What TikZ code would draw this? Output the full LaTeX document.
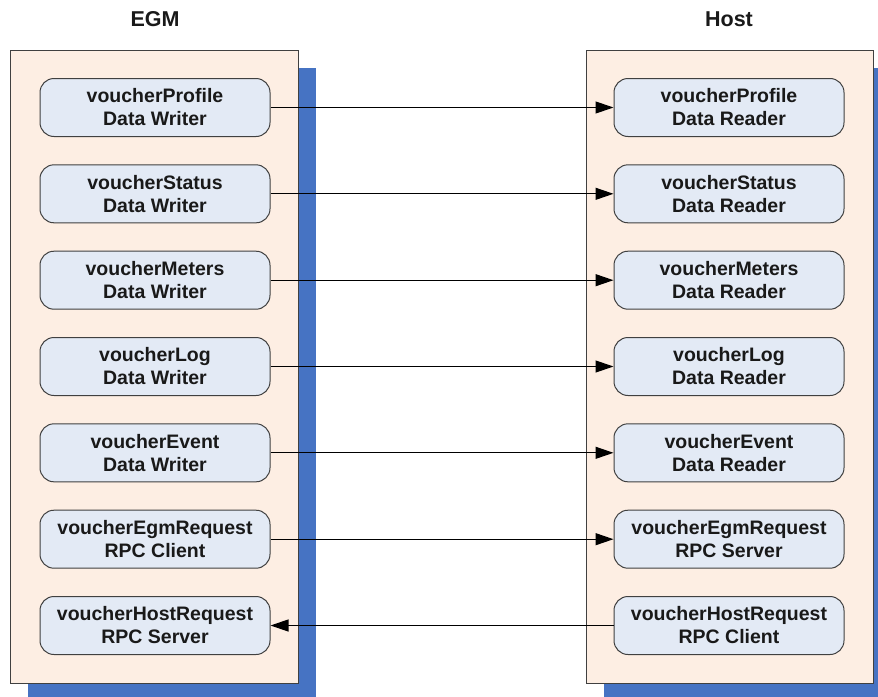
\documentclass[tikz,border=0pt]{standalone}
\usepackage{fontspec}
\setmainfont{Liberation Sans}
\usetikzlibrary{arrows.meta}
\definecolor{panelfill}{HTML}{FDEEE3}
\definecolor{nodefill}{HTML}{E3EAF5}
\definecolor{shadowblue}{HTML}{4673C3}
\definecolor{edgegray}{HTML}{404040}
\tikzset{
  panel/.style={draw=edgegray, line width=1pt, fill=panelfill},
  shadowbox/.style={fill=shadowblue, draw=none},
  item/.style={draw=edgegray, line width=1pt, fill=nodefill, rounded corners=14pt,
    minimum width=230pt, minimum height=58pt, inner sep=0pt, align=center,
    font=\fontsize{19.5}{23}\selectfont\bfseries, text=black!90},
  title/.style={font=\fontsize{21.5}{26}\selectfont\bfseries, text=black!90},
  conn/.style={line width=1.2pt, -{Triangle[length=18pt,width=12pt]}},
}
\begin{document}
\begin{tikzpicture}[x=1pt,y=-1pt]
\useasboundingbox (0,0) rectangle (878,696);
% shadows and panels
\fill[shadowbox] (28,68) rectangle (316,700);
\fill[shadowbox] (604,68) rectangle (891,700);
\draw[panel] (10,50) rectangle (298,683);
\draw[panel] (586,50) rectangle (873,683);
% titles
\node[title] (tEGM) at (155,19) {EGM};
\node[title] (tHost) at (729,19) {Host};
% left nodes
\node[item] (l1) at (155,107.5) {voucherProfile\\Data Writer};
\node[item] (l2) at (155,193.8) {voucherStatus\\Data Writer};
\node[item] (l3) at (155,280.2) {voucherMeters\\Data Writer};
\node[item] (l4) at (155,366.5) {voucherLog\\Data Writer};
\node[item] (l5) at (155,452.8) {voucherEvent\\Data Writer};
\node[item] (l6) at (155,539.2) {voucherEgmRequest\\RPC Client};
\node[item] (l7) at (155,625.5) {voucherHostRequest\\RPC Server};
% right nodes
\node[item] (r1) at (729,107.5) {voucherProfile\\Data Reader};
\node[item] (r2) at (729,193.8) {voucherStatus\\Data Reader};
\node[item] (r3) at (729,280.2) {voucherMeters\\Data Reader};
\node[item] (r4) at (729,366.5) {voucherLog\\Data Reader};
\node[item] (r5) at (729,452.8) {voucherEvent\\Data Reader};
\node[item] (r6) at (729,539.2) {voucherEgmRequest\\RPC Server};
\node[item] (r7) at (729,625.5) {voucherHostRequest\\RPC Client};
% connectors
\draw[conn] (l1) -- (r1);
\draw[conn] (l2) -- (r2);
\draw[conn] (l3) -- (r3);
\draw[conn] (l4) -- (r4);
\draw[conn] (l5) -- (r5);
\draw[conn] (l6) -- (r6);
\draw[conn] (r7) -- (l7);
\end{tikzpicture}
\end{document}
